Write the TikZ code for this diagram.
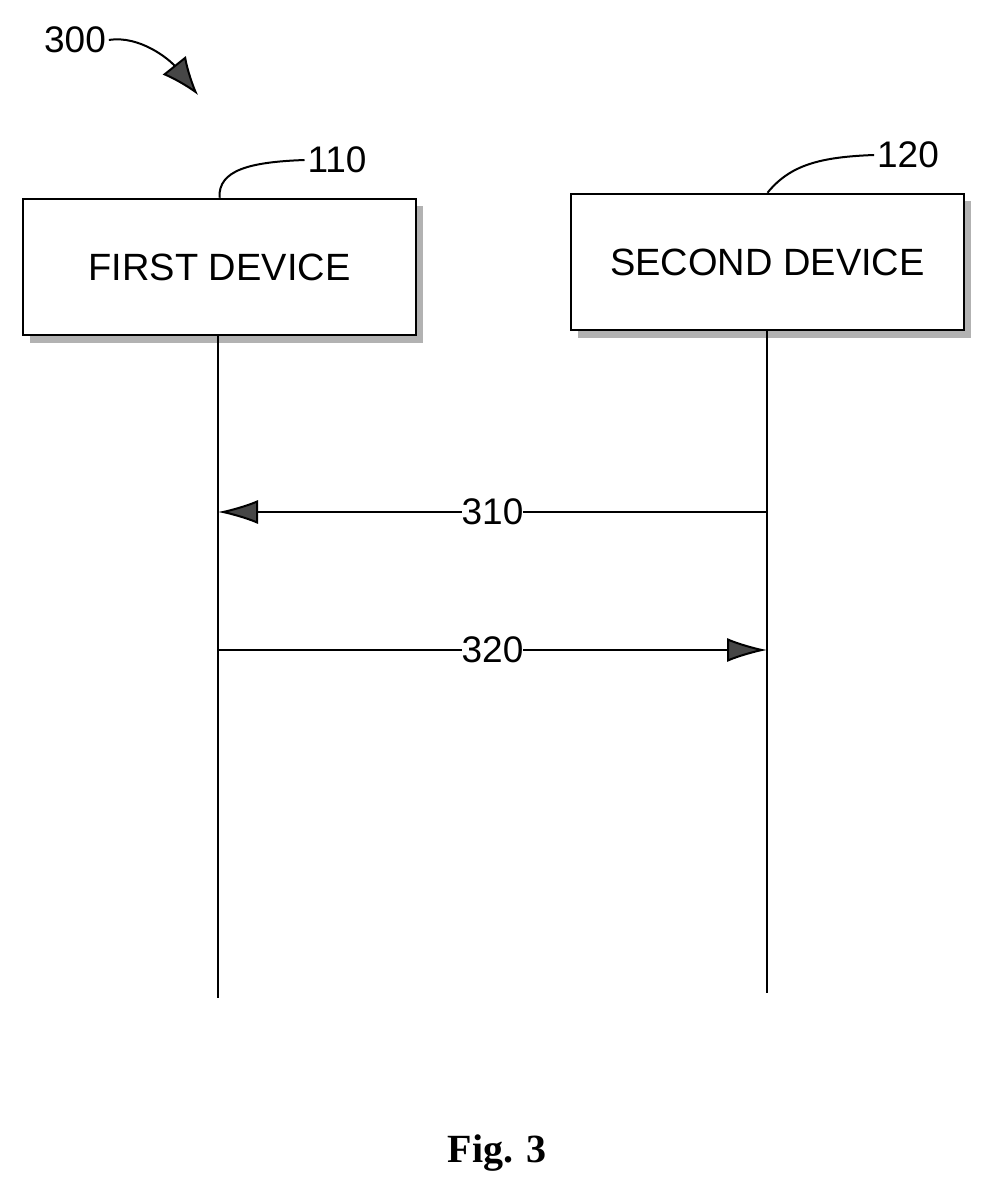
\documentclass[tikz,border=0pt]{standalone}
\usepackage{fontspec}
\setmainfont{Liberation Sans}
\newfontfamily\figfont{Liberation Serif}
\usetikzlibrary{arrows.meta,positioning}
\begin{document}
\begin{tikzpicture}[x=1pt,y=-1pt,line width=2pt,
    device/.style = {draw, line width=2.5pt, fill=white, minimum width=393pt, minimum height=136pt,
                     font=\fontsize{38}{42}\selectfont, inner sep=0pt},
    shade/.style = {fill=gray!60, draw=none},
    numlbl/.style = {font=\fontsize{37}{42}\selectfont, inner sep=2pt},
    lifeline/.style = {line width=2pt},
    msg/.style = {line width=2pt, -{Latex[length=40pt,width=24pt,fill=gray!55!black]}}]
    \useasboundingbox (0,0) rectangle (995,1198);
    % devices
    \fill[shade] (30,206) rectangle (423,343);
    \node[device] (dev1) at (219.5,267) {FIRST DEVICE};
    \fill[shade] (578,201) rectangle (971,338);
    \node[device] (dev2) at (767.5,262) {SECOND DEVICE};
    % reference numerals
    \node[numlbl] (n110) at (337,160) {110};
    \node[numlbl] (n120) at (908,155) {120};
    \draw (dev1.north) .. controls (218,170) and (250,162) .. (n110.west);
    \draw (dev2.north) .. controls (790,165) and (820,157) .. (n120.west);
    \node[numlbl] (n300) at (75,40) {300};
    \draw[-{Latex[length=38pt,width=30pt,fill=gray!55!black]}] (n300.east) .. controls (140,35) and (170,60) .. (198,95);
    % lifelines
    \coordinate (end1) at (218,998);
    \coordinate (end2) at (767,993);
    \draw[lifeline] (dev1.south -| end1) -- (end1);
    \draw[lifeline] (dev2.south -| end2) -- (end2);
    % messages
    \coordinate (a1) at (767,512);
    \coordinate (b1) at (218,512);
    \draw[msg] (a1) -- node[numlbl, fill=white, inner sep=0pt] (m310) {310} (b1);
    \coordinate (a2) at (218,650);
    \coordinate (b2) at (767,650);
    \draw[msg] (a2) -- node[numlbl, fill=white, inner sep=0pt] (m320) {320} (b2);
    % caption
    \node[font=\figfont\bfseries\fontsize{40}{44}\selectfont] (fig) at (497,1153) {Fig. 3};
\end{tikzpicture}
\end{document}
